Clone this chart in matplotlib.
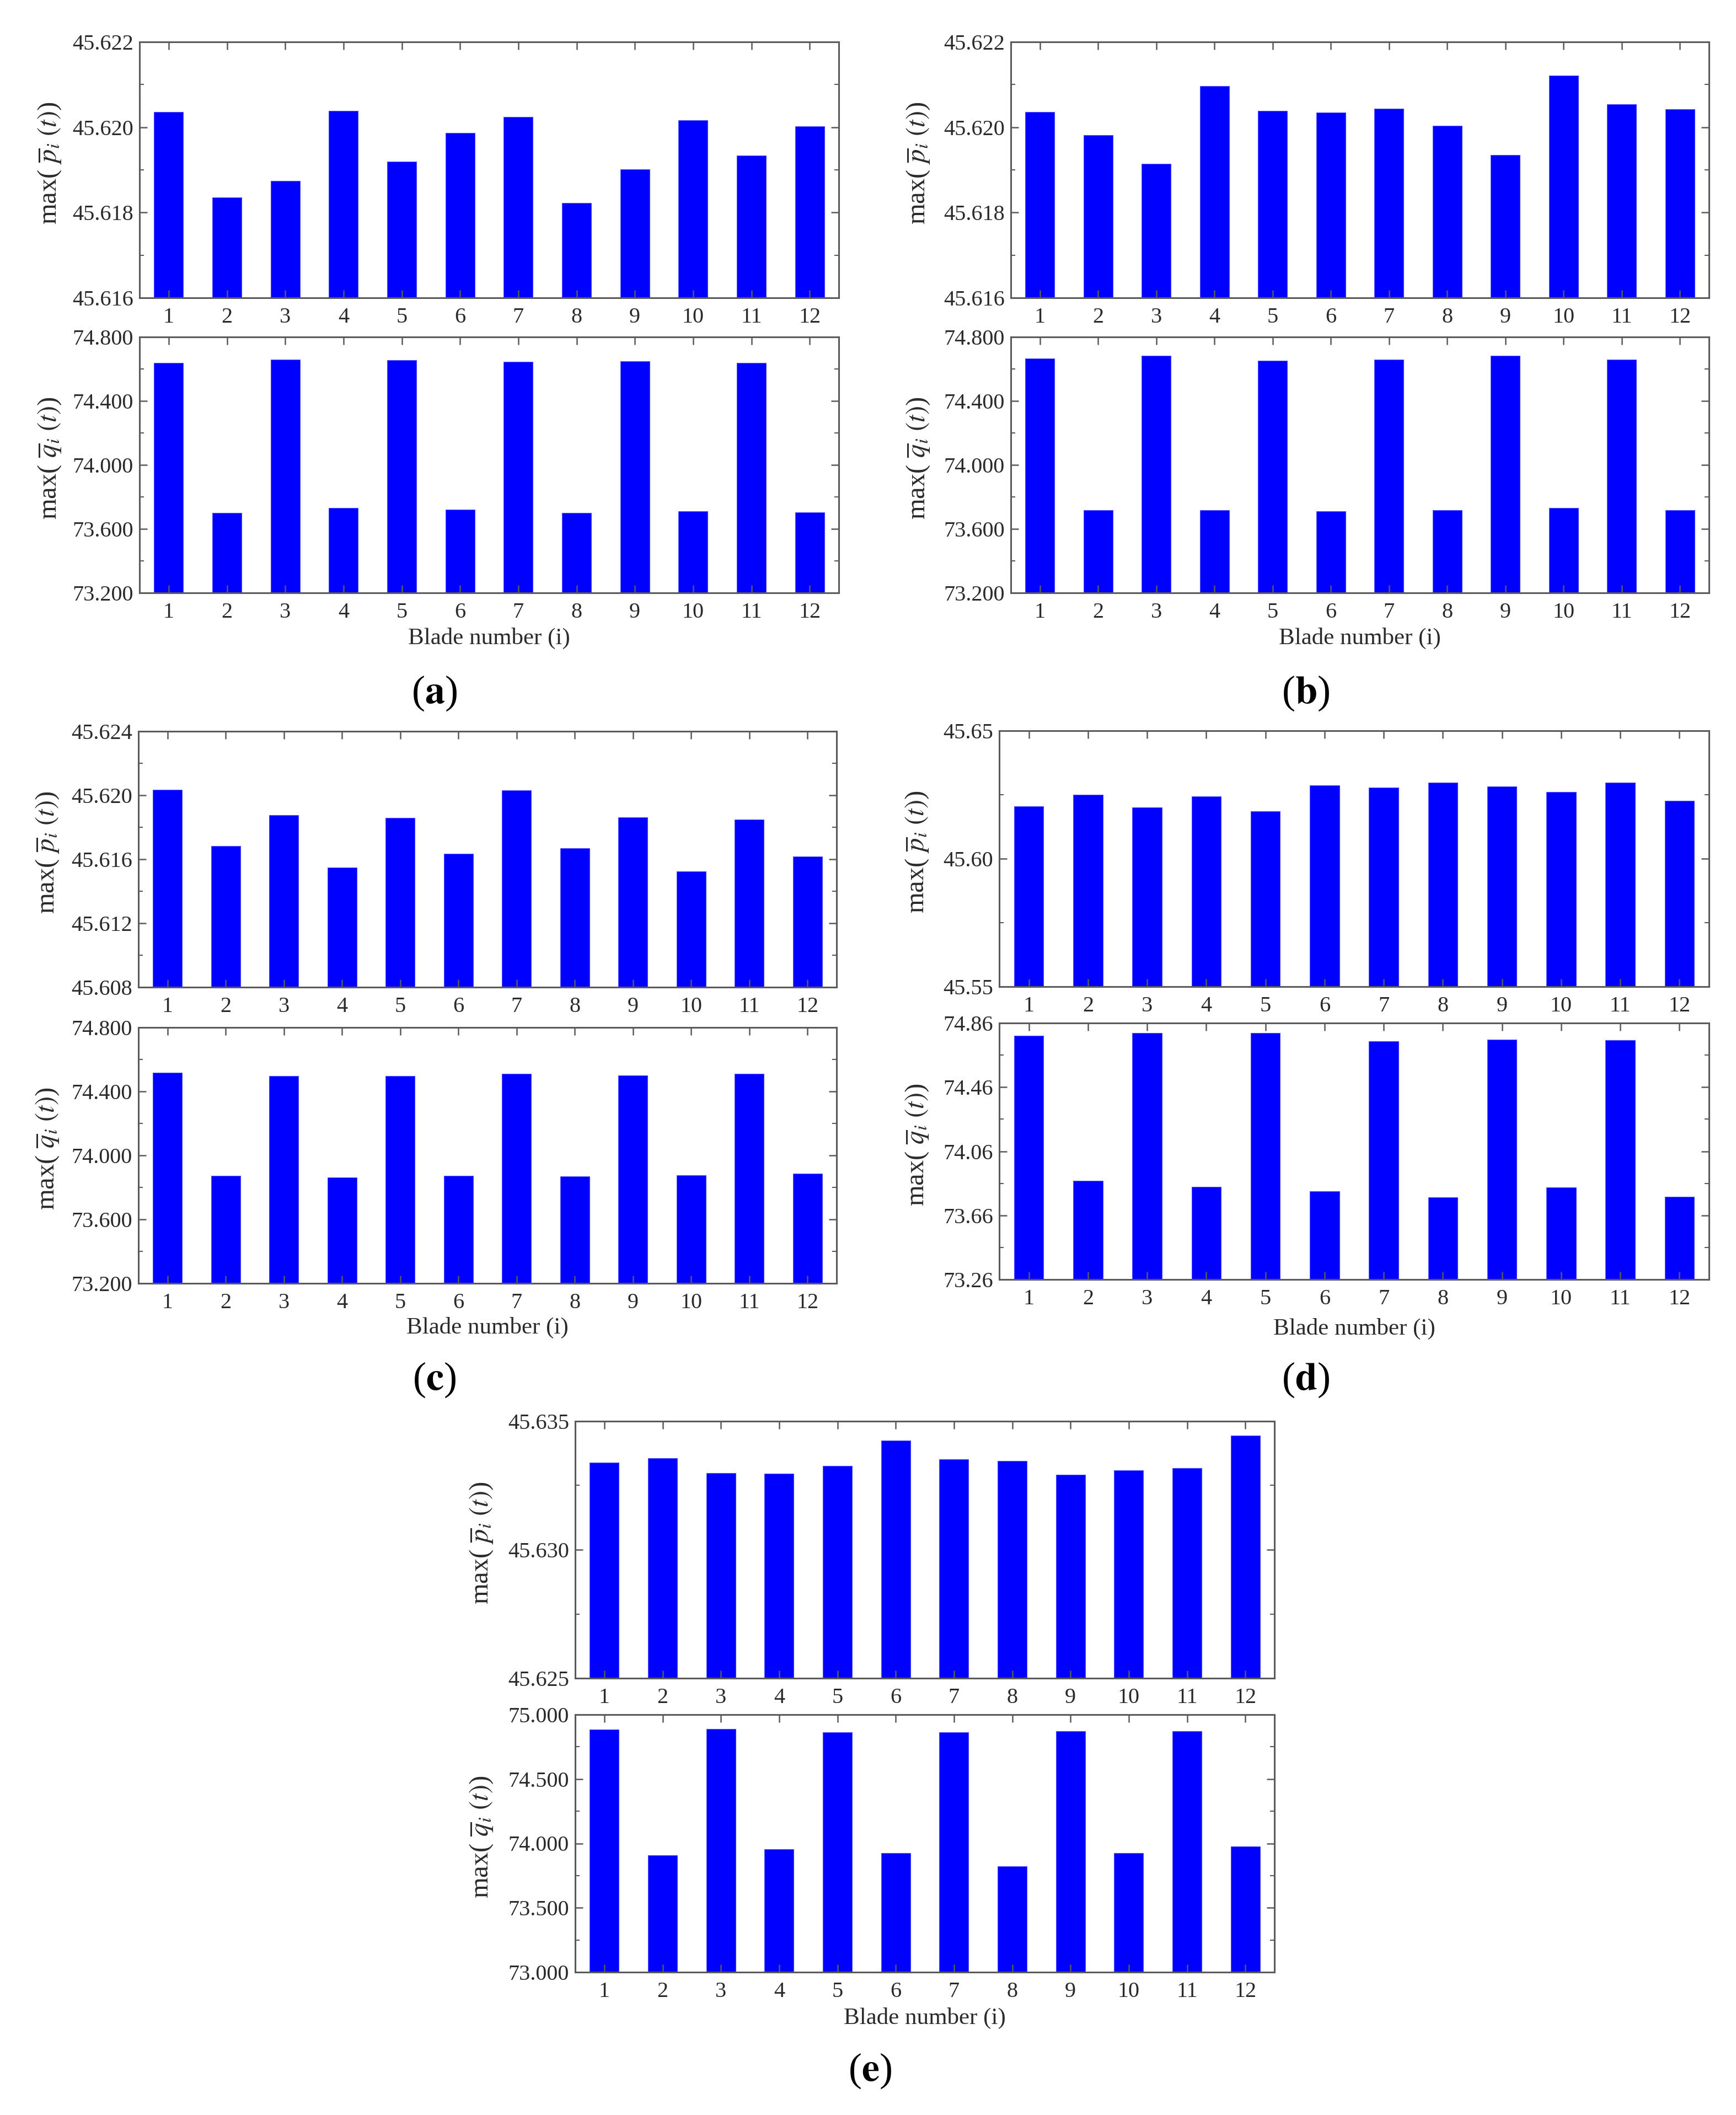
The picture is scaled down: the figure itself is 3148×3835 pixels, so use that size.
import matplotlib
matplotlib.use('Agg')
import matplotlib.pyplot as plt
import numpy as np

plt.rcParams['font.family'] = ['Liberation Serif', 'DejaVu Serif']
plt.rcParams['mathtext.fontset'] = 'stix'

# ---------------- data ----------------
blades = list(range(1, 13))

a_p = [45.62036, 45.61835, 45.61874, 45.62038, 45.61920, 45.61986,
       45.62024, 45.61822, 45.61901, 45.62017, 45.61934, 45.62002]
a_q = [74.637, 73.700, 74.660, 73.732, 74.655, 73.720,
       74.644, 73.700, 74.648, 73.709, 74.637, 73.702]

b_p = [45.62036, 45.61982, 45.61914, 45.62097, 45.62038, 45.62034,
       45.62044, 45.62003, 45.61935, 45.62121, 45.62054, 45.62042]
b_q = [74.664, 73.718, 74.682, 73.718, 74.653, 73.709,
       74.660, 73.716, 74.682, 73.730, 74.660, 73.718]

c_p = [45.62036, 45.61683, 45.61875, 45.61549, 45.61859, 45.61633,
       45.62031, 45.61669, 45.61861, 45.61524, 45.61848, 45.61617]
c_q = [74.517, 73.871, 74.496, 73.862, 74.496, 73.873,
       74.510, 73.869, 74.499, 73.875, 74.510, 73.887]

d_p = [45.6205, 45.6249, 45.6200, 45.6243, 45.6186, 45.6287,
       45.6277, 45.6297, 45.6282, 45.6261, 45.6297, 45.6226]
d_q = [74.781, 73.876, 74.797, 73.839, 74.797, 73.810,
       74.747, 73.771, 74.757, 73.834, 74.752, 73.776]

e_p = [45.63338, 45.63356, 45.63299, 45.63297, 45.63326, 45.63425,
       45.63351, 45.63345, 45.63292, 45.63310, 45.63317, 45.63445]
e_q = [74.886, 73.909, 74.890, 73.956, 74.861, 73.927,
       74.861, 73.824, 74.872, 73.927, 74.872, 73.977]

# y-axis ranges (low, high, number of major ticks)
a_plim, a_qlim = (45.616, 45.622, 4), (73.2, 74.8, 5)
b_plim, b_qlim = (45.616, 45.622, 4), (73.2, 74.8, 5)
c_plim, c_qlim = (45.608, 45.624, 5), (73.2, 74.8, 5)
d_plim, d_qlim = (45.55, 45.65, 3), (73.26, 74.86, 5)
e_plim, e_qlim = (45.625, 45.635, 3), (73.0, 75.0, 5)

xlabel_text = 'Blade number (i)'
p_label = r'max( $\overline{p}_i\ (t)$)'
q_label = r'max( $\overline{q}_i\ (t)$)'

# ---------------- layout ----------------
W, H = 3148, 3835
fig = plt.figure(figsize=(W / 100, H / 100), dpi=100)

BLUE = '#0000FF'
SPINE = '#5a5a5a'
TXT = '#2a2a2a'
TICK_FS = 29
XLAB_FS = 31
YLAB_FS = 35


def px_axes(l, t, r, b):
    return fig.add_axes([l / W, 1 - b / H, (r - l) / W, (b - t) / H])


def style(ax, lim, fmt):
    lo, hi, n = lim
    ax.set_xlim(0.5, 12.5)
    ax.set_ylim(lo, hi)
    ax.set_yticks(np.linspace(lo, hi, n))
    ax.set_yticks(np.linspace(lo, hi, 2 * n - 1), minor=True)
    ax.set_yticklabels([fmt % v for v in np.linspace(lo, hi, n)])
    ax.set_xticks(blades)
    ax.set_xticklabels([str(b) for b in blades])
    for s in ax.spines.values():
        s.set_color(SPINE)
        s.set_linewidth(2.2)
    ax.tick_params(axis='both', which='major', direction='in', length=10,
                   width=1.8, color=SPINE, labelsize=TICK_FS, labelcolor=TXT,
                   top=True, right=True)
    ax.tick_params(axis='y', which='major', pad=8)
    ax.tick_params(axis='x', which='major', pad=12)
    ax.tick_params(axis='y', which='minor', direction='in', length=6,
                   width=1.5, color=SPINE, right=True, left=True)
    ax.tick_params(axis='x', which='minor', bottom=False, top=False)


panels = [
    dict(lr=(253, 1521), top=(76, 540), bot=(611, 1075), p=a_p, q=a_q,
         plim=a_plim, qlim=a_qlim, pf='%.3f', qf='%.3f',
         xl_y=1157, tag='a', tag_xy=(788, 1257), yl_x=90),
    dict(lr=(1833, 3099), top=(76, 540), bot=(611, 1075), p=b_p, q=b_q,
         plim=b_plim, qlim=b_qlim, pf='%.3f', qf='%.3f',
         xl_y=1157, tag='b', tag_xy=(2368, 1257), yl_x=1665),
    dict(lr=(251, 1517), top=(1326, 1790), bot=(1863, 2327), p=c_p, q=c_q,
         plim=c_plim, qlim=c_qlim, pf='%.3f', qf='%.3f',
         xl_y=2407, tag='c', tag_xy=(788, 2502), yl_x=86),
    dict(lr=(1812, 3099), top=(1325, 1789), bot=(1855, 2320), p=d_p, q=d_q,
         plim=d_plim, qlim=d_qlim, pf='%.2f', qf='%.2f',
         xl_y=2409, tag='d', tag_xy=(2368, 2502), yl_x=1663),
    dict(lr=(1043, 2311), top=(2577, 3043), bot=(3109, 3576), p=e_p, q=e_q,
         plim=e_plim, qlim=e_qlim, pf='%.3f', qf='%.3f',
         xl_y=3659, tag='e', tag_xy=(1578, 3755), yl_x=873),
]

for pn in panels:
    l, r = pn['lr']
    for (t, b), vals, lim, fmt, lab in [
        (pn['top'], pn['p'], pn['plim'], pn['pf'], p_label),
        (pn['bot'], pn['q'], pn['qlim'], pn['qf'], q_label),
    ]:
        ax = px_axes(l, t, r, b)
        ax.bar(blades, vals, width=0.5, color=BLUE, edgecolor='#5050ff',
               linewidth=0.8, zorder=1)
        style(ax, lim, fmt)
        fig.text(pn['yl_x'] / W, 1 - ((t + b) / 2 - 12) / H, lab, rotation=90,
                 ha='center', va='center', fontsize=YLAB_FS, color=TXT)
    fig.text(((l + r) / 2) / W, 1 - pn['xl_y'] / H, xlabel_text,
             ha='center', va='center', fontsize=XLAB_FS, color=TXT)
    tx, ty = pn['tag_xy']
    fig.text(tx / W, 1 - ty / H, r'(${\bf %s}$)' % pn['tag'],
             ha='center', va='center', fontsize=52, color='black')

fig.savefig('out.png', dpi=100, facecolor='white')
